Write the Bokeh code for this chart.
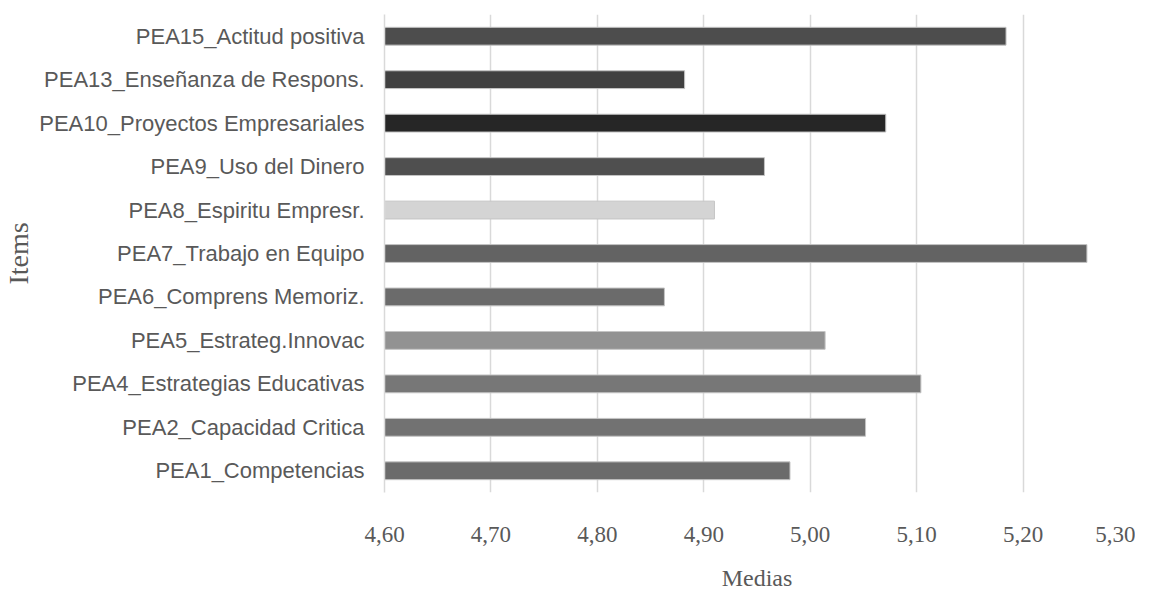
from bokeh.plotting import figure
from bokeh.models import FactorRange, Range1d, FixedTicker, ColumnDataSource
from bokeh.embed import file_html
from bokeh.resources import INLINE

# ---- data ----
items = [
    "PEA1_Competencias",
    "PEA2_Capacidad Critica",
    "PEA4_Estrategias Educativas",
    "PEA5_Estrateg.Innovac",
    "PEA6_Comprens Memoriz.",
    "PEA7_Trabajo en Equipo",
    "PEA8_Espiritu Empresr.",
    "PEA9_Uso del Dinero",
    "PEA10_Proyectos Empresariales",
    "PEA13_Enseñanza de Respons.",
    "PEA15_Actitud positiva",
]
means = [4.981, 5.052, 5.104, 5.014, 4.863, 5.260, 4.910, 4.957, 5.071, 4.882, 5.184]
tick_values = [4.60, 4.70, 4.80, 4.90, 5.00, 5.10, 5.20, 5.30]
tick_labels = ["4,60", "4,70", "4,80", "4,90", "5,00", "5,10", "5,20", "5,30"]

# ---- styles ----
bar_colors = ["#6b6b6b", "#727272", "#777777", "#929292", "#6b6b6b", "#636363",
              "#d4d4d4", "#4f4f4f", "#262626", "#404040", "#4d4d4d"]
x_min, x_max = tick_values[0], tick_values[-1]

src = ColumnDataSource(dict(items=items, means=means, colors=bar_colors,
                            base=[x_min] * len(items)))

p = figure(width=1135, height=600, output_backend="svg", toolbar_location=None,
           y_range=FactorRange(factors=items), x_range=Range1d(x_min, x_max),
           min_border_left=383, min_border_right=6, min_border_top=14,
           min_border_bottom=108)
p.outline_line_color = None
p.background_fill_color = "white"
p.border_fill_color = "white"

p.hbar(y="items", left="base", right="means", height=0.41, source=src,
       fill_color="colors", line_color="#c4c4c4", line_width=1)

# x axis
p.xaxis.ticker = FixedTicker(ticks=tick_values)
p.xaxis.major_label_overrides = {v: l for v, l in zip(tick_values, tick_labels)}
p.xaxis.major_label_text_font = "Liberation Serif"
p.xaxis.major_label_text_font_size = "23px"
p.xaxis.major_label_text_color = "#595959"
p.xaxis.major_label_standoff = 34
p.xaxis.axis_line_color = None
p.xaxis.major_tick_line_color = None
p.xaxis.minor_tick_line_color = None
p.xaxis.major_tick_out = 0
p.xaxis.major_tick_in = 0
p.xaxis.axis_label = "Medias"
p.xaxis.axis_label_text_font = "Liberation Serif"
p.xaxis.axis_label_text_font_size = "24px"
p.xaxis.axis_label_text_font_style = "normal"
p.xaxis.axis_label_text_color = "#595959"
p.xaxis.axis_label_standoff = 20

# y axis
p.yaxis.major_label_text_font = "Liberation Sans"
p.yaxis.major_label_text_font_size = "22px"
p.yaxis.major_label_text_color = "#595959"
p.yaxis.major_label_standoff = 20
p.yaxis.axis_line_color = "#d9d9d9"
p.yaxis.axis_line_width = 1.5
p.yaxis.major_tick_line_color = None
p.yaxis.minor_tick_line_color = None
p.yaxis.major_tick_out = 0
p.yaxis.major_tick_in = 0
p.yaxis.axis_label = "Items"
p.yaxis.axis_label_text_font = "Liberation Serif"
p.yaxis.axis_label_text_font_size = "28px"
p.yaxis.axis_label_text_font_style = "normal"
p.yaxis.axis_label_text_color = "#595959"
p.yaxis.axis_label_standoff = 2

p.xgrid.grid_line_color = "#d9d9d9"
p.xgrid.grid_line_width = 1.5
p.ygrid.grid_line_color = None

open("out.html", "w").write(file_html(p, INLINE))
